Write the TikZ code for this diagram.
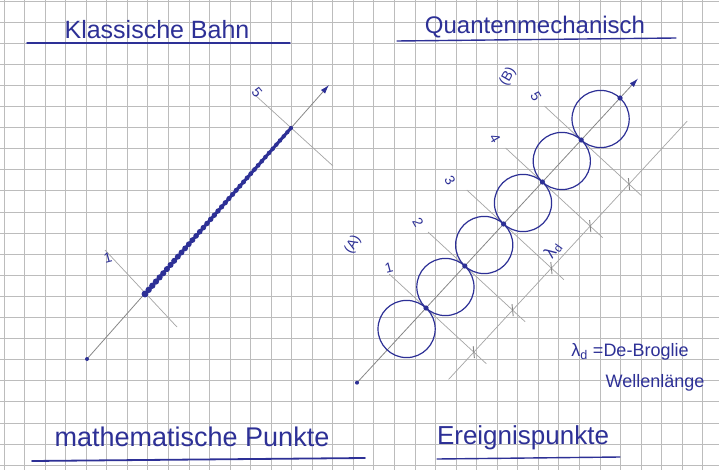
\documentclass[tikz,border=0pt]{standalone}
\usepackage{fontspec}
\setmainfont{Liberation Sans}
\usetikzlibrary{arrows.meta,calc}
\definecolor{ink}{RGB}{45,48,150}
\definecolor{gridc}{RGB}{188,188,188}
\definecolor{pencil}{RGB}{135,135,135}
\definecolor{pencillight}{RGB}{165,165,165}
\begin{document}
\begin{tikzpicture}[x=1pt,y=-1pt,
  hand/.style={text=ink, inner sep=0pt},
  lbl/.style={hand, font=\fontsize{14}{14}\selectfont},
  axis/.style={pencil, line width=0.8pt},
  crossline/.style={pencillight, line width=0.7pt},
  uline/.style={ink, line width=1.4pt, line cap=round},
  ring/.style={ink, line width=1.2pt},
  tickmark/.style={pencil, line width=0.9pt},
  tipped/.style={-{Latex[length=9pt,width=5.5pt,color=ink]}}
]
\useasboundingbox (0,0) rectangle (719,470);
\fill[white] (0,0) rectangle (719,470);
% graph paper
\foreach \k in {0,...,34} \draw[gridc, line width=0.9pt] ({4+20.55*\k},0) -- ({4+20.55*\k},470);
\foreach \k in {0,...,22} \draw[gridc, line width=0.9pt] (0,{1+21.1*\k}) -- (719,{1+21.1*\k});

% titles
\node[hand, font=\fontsize{25}{25}\selectfont] (t1) at (157,30) {Klassische Bahn};
\coordinate (u1a) at (27,43); \coordinate (u1b) at (290,43);
\draw[uline] (u1a) -- (u1b);
\node[hand, font=\fontsize{24}{24}\selectfont] (t2) at (535,27) {Quantenmechanisch};
\coordinate (u2a) at (397,41); \coordinate (u2b) at (676,38);
\draw[uline] (u2a) -- (u2b);
\node[hand, font=\fontsize{27}{27}\selectfont] (t3) at (192,437) {mathematische Punkte};
\coordinate (u3a) at (32,461); \coordinate (u3b) at (365,458);
\draw[uline, line width=1.8pt] (u3a) -- (u3b);
\node[hand, font=\fontsize{26}{26}\selectfont] (t4) at (523,438) {Ereignispunkte};
\coordinate (u4a) at (437,459); \coordinate (u4b) at (620,457);
\draw[uline] (u4a) -- (u4b);

% ---------- left: classical path ----------
\coordinate (L0) at (87,359);
\coordinate (Ltip) at (329,85);
\coordinate (La) at (145,294);
\coordinate (Lb) at (291,128);
\coordinate (Lc1) at (105,250); \coordinate (Lc2) at (177,327);
\coordinate (Ld1) at (255,95);  \coordinate (Ld2) at (333,166);
\draw[crossline] (Lc1) -- (Lc2);
\draw[crossline] (Ld1) -- (Ld2);
\draw[axis, tipped] (L0) -- (Ltip);
\fill[ink] (L0) circle (2);
\draw[ink, line width=3pt] (La) -- (Lb);
\foreach \t in {0,0.025,...,1.001} \fill[ink] ($(La)!\t!(Lb)$) circle ({3.2-1.1*\t});
\fill[ink] (La) circle (3.4);
\node[lbl, rotate=15] (l1) at (108,258) {1};
\node[lbl, rotate=-50] (l5) at (257,92) {5};

% ---------- right: quantum mechanical ----------
\foreach \k in {0,...,6} \coordinate (D\k) at ({426+38.8*(\k-1)},{308-42*(\k-1)});
\coordinate (R0) at ($(D1)+(-69,74.7)$);
\coordinate (Rtip) at ($(D1)+(212,-229.5)$);
\foreach \k in {1,...,5} {
  \coordinate (C\k a) at ($(D\k)+(-36.75,-33.95)$);
  \coordinate (C\k b) at ($(D\k)+(60.3,55.7)$);
  \draw[crossline] (C\k a) -- (C\k b);
  \coordinate (T\k) at ($(D\k)+(47.8,44.1)$);
}
\coordinate (P0) at ($(T1)+(-25.2,27.3)$);
\coordinate (P1) at ($(T1)+(213.4,-231)$);
\draw[crossline] (P0) -- (P1);
\foreach \k in {1,...,5} \draw[tickmark] ($(T\k)+(-0.6,-6)$) -- ($(T\k)+(0.6,6)$);
\draw[axis, tipped] (R0) -- (Rtip);
\fill[ink] (R0) circle (2);
\foreach \k [evaluate=\k as \j using int(\k-1)] in {1,...,6}
  \draw[ring] ($(D\j)!0.5!(D\k)$) circle (28.6);
\foreach \k in {1,...,6} \fill[ink] (D\k) circle (2.6);

\node[lbl, rotate=15] (r1) at (389,268) {1};
\node[lbl, rotate=-60] (r2) at (418,222) {2};
\node[lbl, rotate=-60] (r3) at (450,180) {3};
\node[lbl, rotate=-60] (r4) at (495,138) {4};
\node[lbl, rotate=-60] (r5) at (536,96) {5};
\node[lbl, rotate=60] (rA) at (353,245) {(A)};
\node[lbl, rotate=60] (rB) at (508,77) {(B)};
\node[lbl, rotate=55, font=\fontsize{17}{17}\selectfont] (rl) at (553,250) {λ\textsubscript{d}};

% legend
\node[hand, font=\fontsize{18}{18}\selectfont] (leg1) at (630,352) {λ\textsubscript{d} =De-Broglie};
\node[hand, font=\fontsize{18}{18}\selectfont] (leg2) at (655,383) {Wellenlänge};
\end{tikzpicture}
\end{document}
